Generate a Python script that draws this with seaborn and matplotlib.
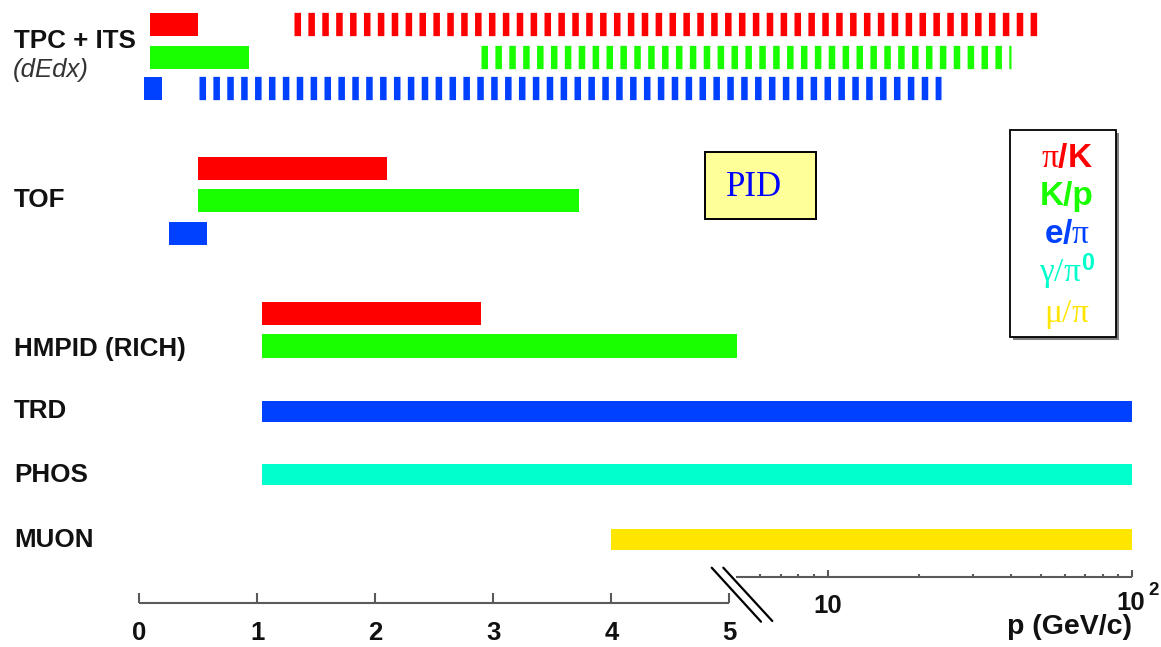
import numpy as np
import pandas as pd
import matplotlib
matplotlib.use("Agg")
import matplotlib.pyplot as plt
from matplotlib.patches import Rectangle
import seaborn as sns

# ---- particle-identification ranges (p in GeV/c) ----------------------------
species = ["pi/K", "K/p", "e/pi", "gamma/pi0", "mu/pi"]
species_colors = ["#ff0000", "#1aff00", "#0040ff", "#00ffcc", "#ffe600"]
legend_texts = [r"$\pi$/K", "K/p", r"e/$\pi$", r"$\gamma/\pi^{\mathbf{0}}$", r"$\mu/\pi$"]

# TPC + ITS dE/dx: solid = 1/beta^2 region, dashed = relativistic rise
tpc_species = ["pi/K", "K/p", "e/pi"]
tpc_lo = [0.09, 0.09, 0.04]
tpc_hi = [0.50, 0.93, 0.19]
tpc_rel_lo = [1.31, 2.90, 0.51]
tpc_rel_hi = [50.0, 40.0, 23.5]

tof_species = ["pi/K", "K/p", "e/pi"]
tof_lo = [0.50, 0.50, 0.25]
tof_hi = [2.10, 3.73, 0.57]

hmpid_species = ["pi/K", "K/p"]
hmpid_lo = [1.04, 1.04]
hmpid_hi = [2.90, 5.02]

single_detectors = ["TRD", "PHOS", "MUON"]
single_species = ["e/pi", "gamma/pi0", "mu/pi"]
single_lo = [1.04, 1.04, 4.00]
single_hi = [100.0, 100.0, 100.0]

detector_labels = ["TPC + ITS", "TOF", "HMPID (RICH)", "TRD", "PHOS", "MUON"]
linear_ticks = [0, 1, 2, 3, 4, 5]
log_major = [10, 100]
log_minor = [6, 7, 8, 9, 20, 30, 40, 50, 60, 70, 80, 90]

color_of = dict(zip(species, species_colors))

# ---- style ------------------------------------------------------------------
sns.set_theme(style="white")
plt.rcParams["font.family"] = ["Liberation Sans", "DejaVu Sans"]
plt.rcParams["lines.scale_dashes"] = False
plt.rcParams["mathtext.fontset"] = "custom"
plt.rcParams["mathtext.rm"] = "Liberation Serif"
plt.rcParams["mathtext.it"] = "Liberation Serif"
plt.rcParams["mathtext.bf"] = "Liberation Sans:bold"
plt.rcParams["mathtext.sf"] = "Liberation Sans"

W, H = 1161, 647
PX_PER_GEV = 118.0
X0_PX = 139.3

# linear up to 5 GeV/c, then logarithmic up to 100 GeV/c
P_BREAK = 5.0
GAP = 6.7 / PX_PER_GEV
DECADE = 304.7 / PX_PER_GEV


def fwd(p):
    p = np.asarray(p, dtype=float)
    logpart = P_BREAK + GAP + DECADE * np.log10(np.maximum(p, P_BREAK) / P_BREAK)
    return np.where(p <= P_BREAK, p, logpart)


def inv(u):
    u = np.asarray(u, dtype=float)
    lg = P_BREAK * 10 ** ((np.maximum(u, P_BREAK + GAP) - P_BREAK - GAP) / DECADE)
    return np.where(u <= P_BREAK, u, np.where(u < P_BREAK + GAP, P_BREAK, lg))


fig = plt.figure(figsize=(W / 100, H / 100), dpi=100, facecolor="white")
ax = fig.add_axes([0, 0, 1, 1])
ax.set_xscale("function", functions=(fwd, inv))
ax.set_xlim(float(inv(-X0_PX / PX_PER_GEV)), float(inv((W - X0_PX) / PX_PER_GEV)))
ax.set_ylim(H, 0)
ax.axis("off")

BAR_H = 23.3
BAR_H1 = 21.0
DASH_LW = BAR_H * 0.72
DASH = (4.7, 5.3)

# ---- TPC + ITS ----------------------------------------------------------------
tpc_rows = [24.3, 57.2, 88.3]
for sp, lo, hi, rlo, rhi, y in zip(tpc_species, tpc_lo, tpc_hi, tpc_rel_lo, tpc_rel_hi, tpc_rows):
    c = color_of[sp]
    ax.barh(y, hi - lo, left=lo, height=BAR_H, color=c, linewidth=0)
    ax.plot([rlo, rhi], [y, y], color=c, lw=DASH_LW, dashes=DASH,
            dash_capstyle="butt", solid_capstyle="butt")

# ---- TOF ----------------------------------------------------------------------
tof_rows = [168.3, 200.8, 233.3]
for sp, lo, hi, y in zip(tof_species, tof_lo, tof_hi, tof_rows):
    ax.barh(y, hi - lo, left=lo, height=BAR_H, color=color_of[sp], linewidth=0)

# ---- HMPID --------------------------------------------------------------------
hmpid_rows = [313.7, 346.0]
for sp, lo, hi, y in zip(hmpid_species, hmpid_lo, hmpid_hi, hmpid_rows):
    ax.barh(y, hi - lo, left=lo, height=BAR_H, color=color_of[sp], linewidth=0)

# ---- TRD / PHOS / MUON --------------------------------------------------------
single_rows = [411.3, 474.5, 539.2]
ranges = pd.DataFrame({"detector": single_detectors, "species": single_species,
                       "lo": single_lo, "hi": single_hi, "row": single_rows})
for _, r in ranges.iterrows():
    ax.barh(r.row, r.hi - r.lo, left=r.lo, height=BAR_H1,
            color=color_of[r.species], linewidth=0)

# ---- broken momentum axis -------------------------------------------------------
AX_C = "#5a5a5a"
Y_LIN, Y_LOG = 602.7, 577.3
ax.plot([linear_ticks[0], linear_ticks[-1]], [Y_LIN, Y_LIN], color=AX_C, lw=1.5,
        solid_capstyle="butt")
ax.vlines(linear_ticks, Y_LIN - 10, Y_LIN, color=AX_C, lw=1.5)
p_log_start = P_BREAK * (1 + 1e-6)
ax.plot([p_log_start, log_major[-1]], [Y_LOG, Y_LOG], color=AX_C, lw=1.5,
        solid_capstyle="butt")
ax.vlines(log_major, Y_LOG - 7.5, Y_LOG, color=AX_C, lw=1.5)
ax.vlines(log_minor, Y_LOG - 3.5, Y_LOG, color=AX_C, lw=1.5)

TICK_FS = 18.5
for t in linear_ticks:
    ax.text(t, 640, str(t), ha="center", va="baseline", fontsize=TICK_FS,
            fontweight="bold", color="#111111")
ax.text(10, 613, "10", ha="center", va="baseline", fontsize=TICK_FS,
        fontweight="bold", color="#111111")
# 10^2 at the end of the log segment
ax.annotate("10", xy=(100, 610), xytext=(-1.5, 0), textcoords="offset points",
            ha="center", va="baseline", fontsize=TICK_FS, fontweight="bold",
            color="#111111")
ax.annotate("2", xy=(100, 595), xytext=(11.5, 0), textcoords="offset points",
            ha="left", va="baseline", fontsize=13.5, fontweight="bold",
            color="#111111")
ax.text(100, 634, "p (GeV/c)", ha="right", va="baseline", fontsize=20.5,
        fontweight="bold", color="#111111")

# ---- overlay in pixel units: labels, break marks, boxes ---------------------------
ov = fig.add_axes([0, 0, 1, 1])
ov.set_xlim(0, W)
ov.set_ylim(H, 0)
ov.axis("off")

ov.plot([711.7, 761.0], [567.7, 621.7], color="black", lw=1.6)
ov.plot([723.3, 772.3], [567.7, 621.0], color="black", lw=1.6)

label_baselines = [48.3, 207.0, 356.0, 418.3, 481.7, 546.7]
for lab, yb in zip(detector_labels, label_baselines):
    ov.text(14, yb, lab, ha="left", va="baseline", fontsize=18.7,
            fontweight="bold", color="#111111")
ov.text(13, 77.5, "(dEdx)", ha="left", va="baseline", fontsize=18.5,
        style="italic", color="#333333")

# PID tag
ov.add_patch(Rectangle((705, 152), 110.7, 67, facecolor="#ffff99",
                       edgecolor="black", lw=1.4))
ov.text(726, 196, "PID", ha="left", va="baseline", fontsize=25,
        family="Liberation Serif", color="#0000ff")

# species key
ov.add_patch(Rectangle((1013, 133), 106, 206.7, facecolor="#808080", edgecolor="none"))
ov.add_patch(Rectangle((1010, 130), 106, 206.7, facecolor="white",
                       edgecolor="black", lw=1.3))
key_baselines = [166.7, 205.0, 243.3, 281.7, 322.0]
for txt, c, yb in zip(legend_texts, species_colors, key_baselines):
    ov.text(1067, yb, txt, ha="center", va="baseline", fontsize=24,
            fontweight="bold", color=c)

fig.savefig("out.png", dpi=100, facecolor="white")
